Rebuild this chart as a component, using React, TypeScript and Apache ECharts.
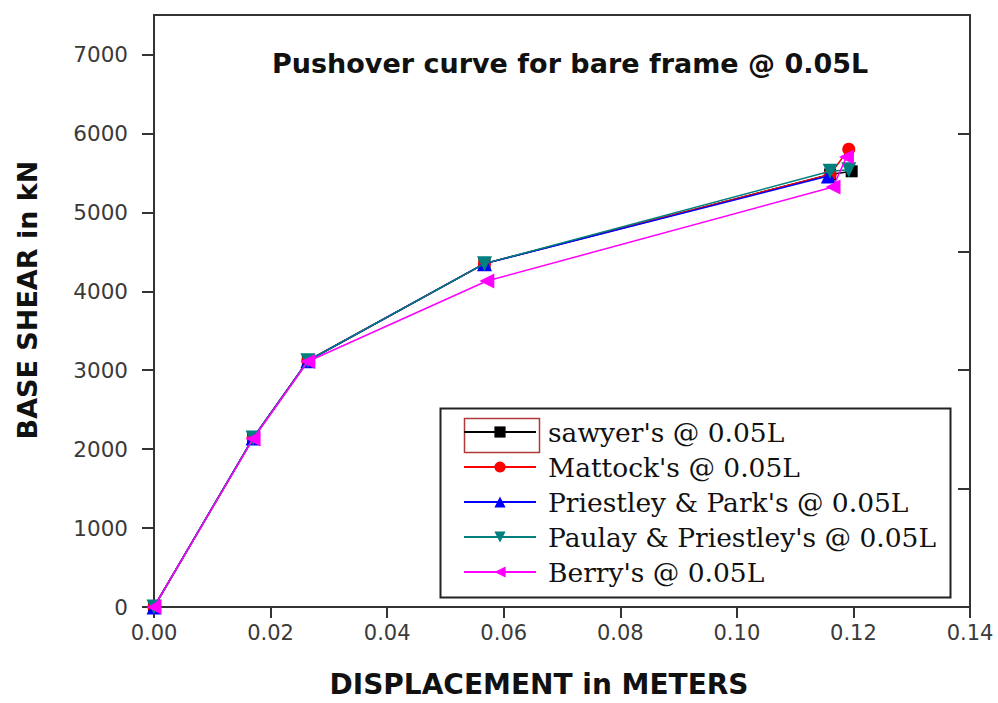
import React, { useEffect, useRef } from "react";
import * as echarts from "echarts";

const seriesNames = [
  "sawyer's @ 0.05L",
  "Mattock's @ 0.05L",
  "Priestley & Park's @ 0.05L",
  "Paulay & Priestley's @ 0.05L",
  "Berry's @ 0.05L",
];

const sawyer: number[][] = [[0, 0], [0.017, 2140], [0.0264, 3120], [0.0567, 4350], [0.116, 5480], [0.1197, 5520]];
const mattock: number[][] = [[0, 0], [0.017, 2140], [0.0264, 3120], [0.0567, 4350], [0.116, 5480], [0.1192, 5800]];
const priestleyPark: number[][] = [[0, 0], [0.017, 2140], [0.0264, 3120], [0.0567, 4350], [0.1157, 5460]];
const paulayPriestley: number[][] = [[0, 0], [0.017, 2140], [0.0264, 3120], [0.0567, 4350], [0.116, 5520], [0.1192, 5540]];
const berry: number[][] = [[0, 0], [0.017, 2130], [0.0264, 3110], [0.0571, 4130], [0.1165, 5320], [0.1188, 5700]];

const xTicks = [0, 0.02, 0.04, 0.06, 0.08, 0.1, 0.12, 0.14];
const yTicks = [0, 1000, 2000, 3000, 4000, 5000, 6000, 7000];

const colors = ["#000000", "#ff0000", "#0000ff", "#007f7f", "#ff00ff"];
const symbols = [
  "rect",
  "circle",
  "triangle",
  "path://M0,0L2,0L1,1.8Z",
  "path://M0,1L1.8,0L1.8,2Z",
];
const symbolSizes = [12, 13, 15, 15, 15];

export default function App() {
  const ref = useRef<HTMLDivElement>(null);
  useEffect(() => {
    if (!ref.current) return;
    const chart = echarts.init(ref.current, null, { renderer: "svg" });
    const datasets = [sawyer, mattock, priestleyPark, paulayPriestley, berry];
    const axisLine = { show: true, onZero: false, lineStyle: { color: "#333", width: 2 } };
    chart.setOption({
      animation: false,
      backgroundColor: "#ffffff",
      title: {
        text: "Pushover curve for bare frame @ 0.05L",
        left: 272,
        top: 50,
        padding: 0,
        textStyle: { fontFamily: "DejaVu Sans", fontWeight: "bold", fontSize: 27, color: "#111" },
      },
      grid: { left: 154, right: 28, top: 15, bottom: 91 },
      xAxis: [
        {
          type: "value",
          position: "bottom",
          min: 0,
          max: 0.14,
          interval: 0.02,
          axisLine,
          axisTick: { show: true, inside: false, length: 11, lineStyle: { color: "#333", width: 2 } },
          axisLabel: {
            fontFamily: "DejaVu Sans",
            fontSize: 21,
            color: "#3a3a3a",
            margin: 15,
            customValues: xTicks,
            formatter: (v: number) => v.toFixed(2),
          },
          splitLine: { show: false },
          minorTick: { show: false },
          name: "DISPLACEMENT in METERS",
          nameLocation: "middle",
          nameGap: 63,
          nameTextStyle: {
            fontFamily: "DejaVu Sans",
            fontWeight: "bold",
            fontSize: 28,
            color: "#111",
            padding: [0, 46, 0, 0],
          },
        },
        {
          type: "value",
          position: "top",
          min: 0,
          max: 0.14,
          axisLine,
          axisTick: { show: false },
          axisLabel: { show: false },
          splitLine: { show: false },
        },
      ],
      yAxis: [
        {
          type: "value",
          position: "left",
          min: 0,
          max: 7500,
          interval: 1000,
          axisLine,
          axisTick: { show: true, length: 12, customValues: yTicks, lineStyle: { color: "#333", width: 2 } },
          minorTick: { show: false },
          axisLabel: {
            fontFamily: "DejaVu Sans",
            fontSize: 21.5,
            color: "#3a3a3a",
            margin: 26,
            customValues: yTicks,
            formatter: (v: number) => String(v),
          },
          splitLine: { show: false },
          name: "BASE SHEAR in kN",
          nameLocation: "middle",
          nameGap: 113,
          nameRotate: 90,
          nameTextStyle: {
            fontFamily: "DejaVu Sans",
            fontWeight: "bold",
            fontSize: 27,
            color: "#111",
            padding: [0, 0, 0, 22],
          },
        },
        {
          type: "value",
          position: "right",
          min: 0,
          max: 7500,
          interval: 1500,
          axisLine,
          axisTick: { show: true, inside: true, length: 12, lineStyle: { color: "#333", width: 2 } },
          axisLabel: { show: false },
          splitLine: { show: false },
        },
      ],
      legend: {
        orient: "vertical",
        left: 463,
        top: 417,
        padding: 0,
        itemWidth: 72,
        itemHeight: 14,
        itemGap: 5,
        data: seriesNames,
        textStyle: {
          fontFamily: "DejaVu Serif",
          fontSize: 26.5,
          lineHeight: 30,
          color: "#111",
          padding: [0, 0, 0, 7],
        },
      },
      graphic: [
        {
          type: "rect",
          left: 438,
          top: 406,
          shape: { width: 510, height: 189 },
          style: { fill: "none", stroke: "#222", lineWidth: 2 },
          z: 1,
        },
        {
          type: "rect",
          left: 462,
          top: 416,
          shape: { width: 75, height: 34 },
          style: { fill: "none", stroke: "#b03a3a", lineWidth: 1.5 },
          z: 1,
        },
      ],
      series: seriesNames.map((name, i) => ({
        name,
        type: "line",
        data: datasets[i],
        symbol: symbols[i],
        symbolSize: symbolSizes[i],
        itemStyle: { color: colors[i] },
        lineStyle: { color: colors[i], width: 1.5 },
        z: 2 + i,
      })),
    });
    return () => chart.dispose();
  }, []);
  return (
    <div
      ref={ref}
      style={{ position: "fixed", left: 0, top: 0, width: 998, height: 703, background: "#fff" }}
    />
  );
}
